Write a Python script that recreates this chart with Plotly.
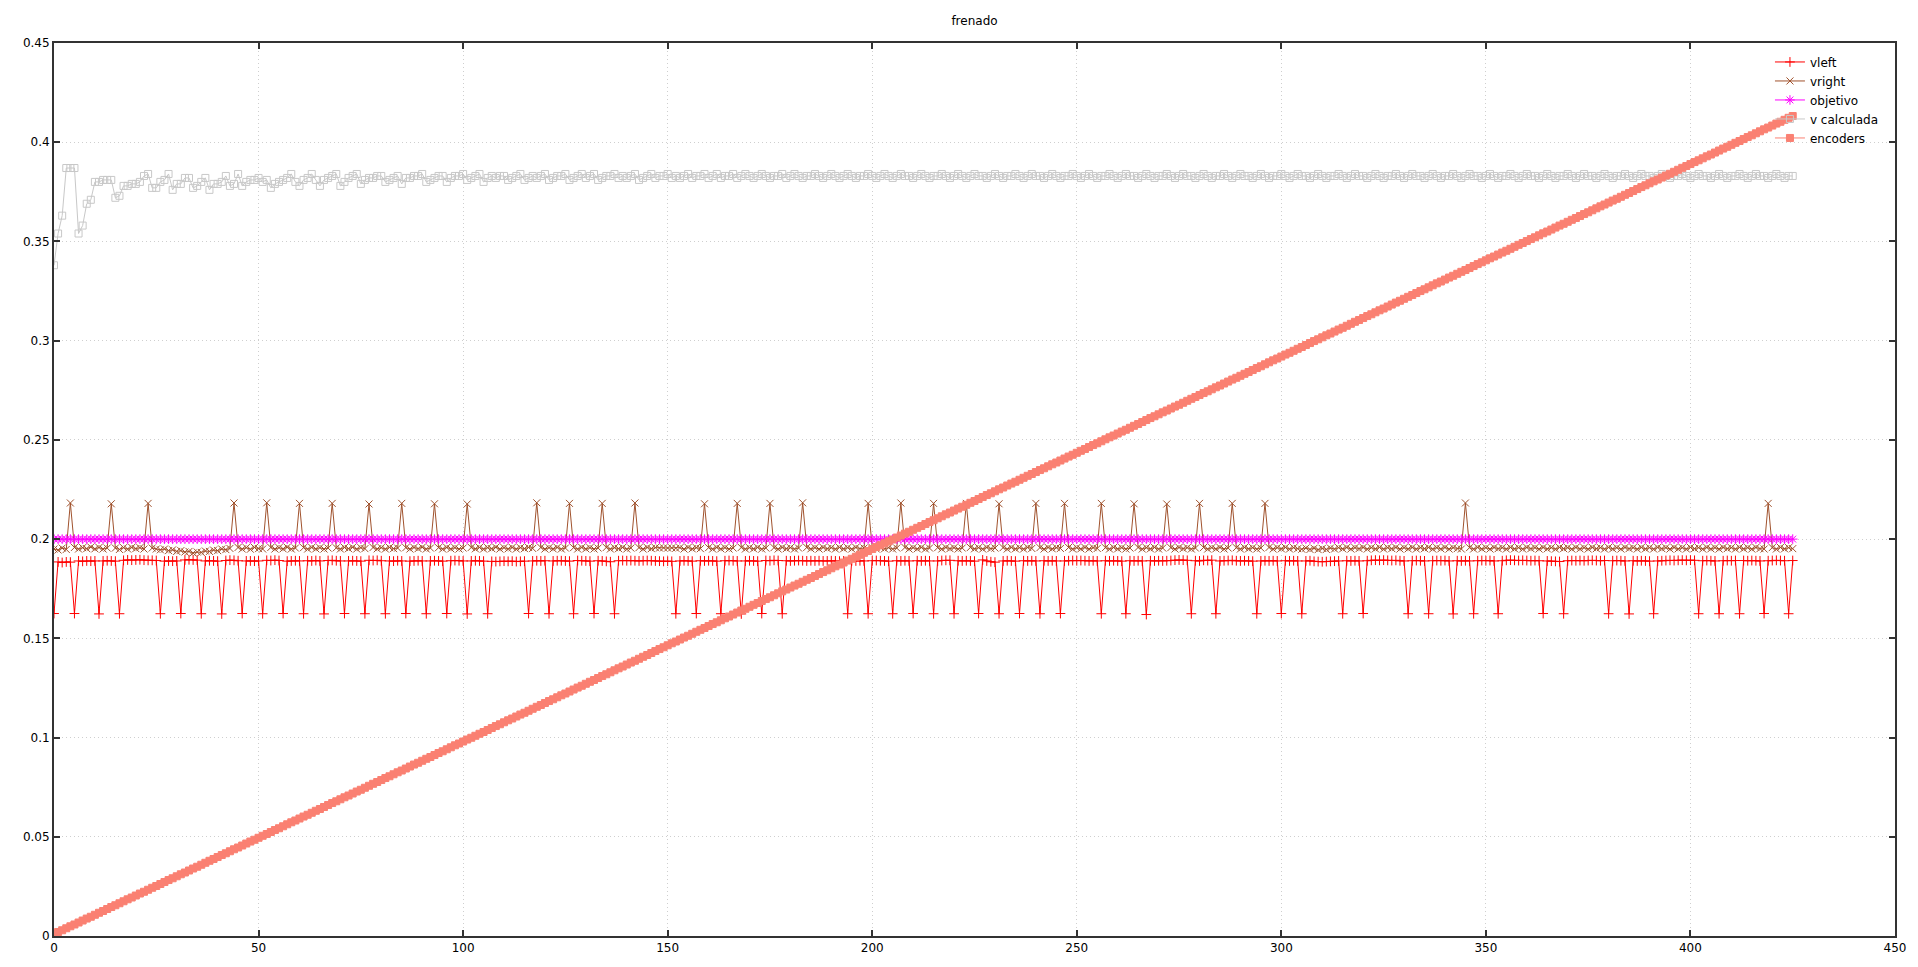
import plotly.graph_objects as go

# sample index (x axis)
X = list(range(426))

VLEFT = [
    0.1625, 0.1885, 0.1882, 0.1885, 0.1884, 0.1625, 0.1890, 0.1888, 0.1890, 0.1889,
    0.1890, 0.1623, 0.1890, 0.1891, 0.1890, 0.1889, 0.1624, 0.1893, 0.1895, 0.1894,
    0.1895, 0.1896, 0.1894, 0.1893, 0.1893, 0.1892, 0.1624, 0.1889, 0.1890, 0.1889,
    0.1890, 0.1625, 0.1895, 0.1896, 0.1895, 0.1894, 0.1624, 0.1890, 0.1891, 0.1890,
    0.1889, 0.1623, 0.1892, 0.1894, 0.1893, 0.1891, 0.1625, 0.1890, 0.1890, 0.1889,
    0.1890, 0.1624, 0.1893, 0.1892, 0.1894, 0.1892, 0.1625, 0.1889, 0.1890, 0.1891,
    0.1890, 0.1624, 0.1891, 0.1890, 0.1892, 0.1890, 0.1623, 0.1892, 0.1893, 0.1891,
    0.1890, 0.1625, 0.1890, 0.1891, 0.1890, 0.1889, 0.1624, 0.1893, 0.1892, 0.1893,
    0.1891, 0.1624, 0.1890, 0.1889, 0.1891, 0.1890, 0.1625, 0.1889, 0.1890, 0.1891,
    0.1890, 0.1624, 0.1890, 0.1891, 0.1890, 0.1889, 0.1625, 0.1891, 0.1892, 0.1891,
    0.1890, 0.1623, 0.1890, 0.1891, 0.1890, 0.1889, 0.1624, 0.1888, 0.1887, 0.1888,
    0.1889, 0.1888, 0.1889, 0.1887, 0.1888, 0.1889, 0.1625, 0.1890, 0.1891, 0.1890,
    0.1891, 0.1624, 0.1890, 0.1891, 0.1891, 0.1890, 0.1889, 0.1624, 0.1892, 0.1891,
    0.1890, 0.1889, 0.1625, 0.1891, 0.1890, 0.1888, 0.1886, 0.1624, 0.1891, 0.1892,
    0.1891, 0.1892, 0.1891, 0.1890, 0.1891, 0.1892, 0.1891, 0.1890, 0.1889, 0.1888,
    0.1889, 0.1888, 0.1624, 0.1890, 0.1891, 0.1890, 0.1889, 0.1625, 0.1891, 0.1890,
    0.1891, 0.1890, 0.1889, 0.1624, 0.1891, 0.1892, 0.1891, 0.1890, 0.1623, 0.1890,
    0.1891, 0.1890, 0.1889, 0.1625, 0.1892, 0.1891, 0.1893, 0.1892, 0.1624, 0.1891,
    0.1890, 0.1891, 0.1892, 0.1891, 0.1890, 0.1891, 0.1890, 0.1891, 0.1890, 0.1890,
    0.1891, 0.1890, 0.1889, 0.1890, 0.1624, 0.1891, 0.1890, 0.1891, 0.1890, 0.1624,
    0.1891, 0.1892, 0.1891, 0.1890, 0.1889, 0.1624, 0.1891, 0.1890, 0.1891, 0.1890,
    0.1625, 0.1891, 0.1890, 0.1891, 0.1890, 0.1624, 0.1890, 0.1892, 0.1893, 0.1893,
    0.1624, 0.1891, 0.1890, 0.1891, 0.1890, 0.1889, 0.1625, 0.1895, 0.1890, 0.1886,
    0.1884, 0.1624, 0.1890, 0.1891, 0.1890, 0.1889, 0.1625, 0.1891, 0.1890, 0.1891,
    0.1890, 0.1624, 0.1891, 0.1890, 0.1891, 0.1890, 0.1625, 0.1890, 0.1891, 0.1892,
    0.1891, 0.1892, 0.1891, 0.1890, 0.1891, 0.1890, 0.1624, 0.1891, 0.1890, 0.1891,
    0.1890, 0.1889, 0.1624, 0.1891, 0.1890, 0.1891, 0.1890, 0.1620, 0.1891, 0.1890,
    0.1891, 0.1890, 0.1891, 0.1892, 0.1894, 0.1895, 0.1894, 0.1893, 0.1624, 0.1891,
    0.1890, 0.1893, 0.1892, 0.1894, 0.1624, 0.1890, 0.1891, 0.1892, 0.1893, 0.1891,
    0.1890, 0.1891, 0.1890, 0.1889, 0.1624, 0.1890, 0.1891, 0.1890, 0.1891, 0.1890,
    0.1625, 0.1891, 0.1890, 0.1891, 0.1890, 0.1624, 0.1890, 0.1891, 0.1888, 0.1887,
    0.1886, 0.1887, 0.1888, 0.1889, 0.1890, 0.1624, 0.1891, 0.1890, 0.1891, 0.1890,
    0.1625, 0.1891, 0.1893, 0.1894, 0.1893, 0.1894, 0.1893, 0.1892, 0.1893, 0.1891,
    0.1890, 0.1624, 0.1891, 0.1892, 0.1891, 0.1890, 0.1624, 0.1891, 0.1892, 0.1891,
    0.1892, 0.1890, 0.1623, 0.1891, 0.1890, 0.1891, 0.1890, 0.1624, 0.1891, 0.1892,
    0.1891, 0.1892, 0.1890, 0.1624, 0.1891, 0.1893, 0.1894, 0.1893, 0.1892, 0.1893,
    0.1892, 0.1891, 0.1892, 0.1891, 0.1625, 0.1890, 0.1889, 0.1888, 0.1887, 0.1624,
    0.1891, 0.1892, 0.1891, 0.1892, 0.1891, 0.1892, 0.1893, 0.1892, 0.1891, 0.1892,
    0.1624, 0.1891, 0.1892, 0.1891, 0.1890, 0.1623, 0.1891, 0.1890, 0.1891, 0.1890,
    0.1889, 0.1624, 0.1890, 0.1891, 0.1892, 0.1893, 0.1892, 0.1893, 0.1894, 0.1893,
    0.1894, 0.1893, 0.1624, 0.1891, 0.1892, 0.1891, 0.1890, 0.1624, 0.1891, 0.1892,
    0.1891, 0.1892, 0.1624, 0.1892, 0.1891, 0.1892, 0.1891, 0.1890, 0.1625, 0.1891,
    0.1892, 0.1893, 0.1892, 0.1891, 0.1624, 0.1892,
]

VRIGHT = [
    0.1950, 0.1945, 0.1955, 0.1948, 0.2182, 0.1958, 0.1950, 0.1957, 0.1952, 0.1960,
    0.1951, 0.1958, 0.1950, 0.1955, 0.2178, 0.1955, 0.1948, 0.1957, 0.1950, 0.1958,
    0.1952, 0.1957, 0.1950, 0.2180, 0.1955, 0.1950, 0.1946, 0.1950, 0.1942, 0.1946,
    0.1938, 0.1942, 0.1935, 0.1938, 0.1930, 0.1935, 0.1933, 0.1940, 0.1938, 0.1945,
    0.1942, 0.1950, 0.1947, 0.1953, 0.2182, 0.1958, 0.1950, 0.1957, 0.1949, 0.1958,
    0.1952, 0.1950, 0.2183, 0.1958, 0.1950, 0.1957, 0.1951, 0.1959, 0.1950, 0.1955,
    0.2180, 0.1957, 0.1950, 0.1958, 0.1951, 0.1957, 0.1950, 0.1955, 0.2180, 0.1956,
    0.1950, 0.1958, 0.1952, 0.1959, 0.1950, 0.1957, 0.1952, 0.2177, 0.1958, 0.1951,
    0.1957, 0.1950, 0.1958, 0.1952, 0.1955, 0.2180, 0.1957, 0.1950, 0.1958, 0.1952,
    0.1959, 0.1950, 0.1955, 0.2178, 0.1957, 0.1950, 0.1958, 0.1951, 0.1957, 0.1950,
    0.1955, 0.2177, 0.1958, 0.1951, 0.1958, 0.1950, 0.1957, 0.1952, 0.1959, 0.1950,
    0.1957, 0.1951, 0.1958, 0.1950, 0.1957, 0.1952, 0.1958, 0.1953, 0.2183, 0.1958,
    0.1950, 0.1957, 0.1951, 0.1958, 0.1950, 0.1955, 0.2180, 0.1957, 0.1950, 0.1958,
    0.1951, 0.1957, 0.1950, 0.1955, 0.2180, 0.1958, 0.1950, 0.1957, 0.1952, 0.1958,
    0.1950, 0.1955, 0.2182, 0.1957, 0.1950, 0.1958, 0.1952, 0.1957, 0.1955, 0.1956,
    0.1955, 0.1956, 0.1954, 0.1957, 0.1950, 0.1958, 0.1951, 0.1957, 0.1952, 0.2178,
    0.1957, 0.1950, 0.1958, 0.1951, 0.1957, 0.1950, 0.1955, 0.2180, 0.1958, 0.1950,
    0.1957, 0.1951, 0.1958, 0.1950, 0.1955, 0.2180, 0.1957, 0.1950, 0.1958, 0.1952,
    0.1957, 0.1950, 0.1955, 0.2183, 0.1958, 0.1951, 0.1957, 0.1950, 0.1958, 0.1952,
    0.1957, 0.1950, 0.1958, 0.1951, 0.1957, 0.1950, 0.1958, 0.1952, 0.1955, 0.2180,
    0.1957, 0.1950, 0.1958, 0.1951, 0.1957, 0.1950, 0.1955, 0.2182, 0.1958, 0.1950,
    0.1957, 0.1951, 0.1958, 0.1950, 0.1955, 0.2180, 0.1957, 0.1950, 0.1958, 0.1952,
    0.1957, 0.1950, 0.1955, 0.2180, 0.1958, 0.1951, 0.1957, 0.1950, 0.1958, 0.1952,
    0.1955, 0.2178, 0.1957, 0.1950, 0.1958, 0.1951, 0.1957, 0.1950, 0.1958, 0.1953,
    0.2180, 0.1957, 0.1950, 0.1958, 0.1951, 0.1957, 0.1953, 0.2180, 0.1958, 0.1950,
    0.1957, 0.1951, 0.1958, 0.1950, 0.1957, 0.1953, 0.2180, 0.1957, 0.1950, 0.1958,
    0.1951, 0.1957, 0.1950, 0.1955, 0.2178, 0.1958, 0.1950, 0.1957, 0.1951, 0.1958,
    0.1950, 0.1955, 0.2177, 0.1957, 0.1950, 0.1958, 0.1952, 0.1957, 0.1950, 0.1955,
    0.2180, 0.1958, 0.1950, 0.1957, 0.1951, 0.1958, 0.1950, 0.1955, 0.2180, 0.1957,
    0.1950, 0.1958, 0.1951, 0.1957, 0.1950, 0.1955, 0.2180, 0.1958, 0.1950, 0.1957,
    0.1951, 0.1958, 0.1950, 0.1957, 0.1952, 0.1949, 0.1955, 0.1948, 0.1954, 0.1947,
    0.1953, 0.1948, 0.1955, 0.1950, 0.1957, 0.1951, 0.1958, 0.1950, 0.1957, 0.1952,
    0.1958, 0.1950, 0.1957, 0.1951, 0.1958, 0.1950, 0.1957, 0.1952, 0.1958, 0.1950,
    0.1957, 0.1951, 0.1958, 0.1950, 0.1957, 0.1952, 0.1958, 0.1950, 0.1957, 0.1951,
    0.1958, 0.1950, 0.1957, 0.1952, 0.1950, 0.2182, 0.1957, 0.1950, 0.1958, 0.1951,
    0.1957, 0.1950, 0.1958, 0.1952, 0.1957, 0.1950, 0.1958, 0.1951, 0.1957, 0.1950,
    0.1958, 0.1952, 0.1957, 0.1950, 0.1958, 0.1951, 0.1957, 0.1950, 0.1958, 0.1952,
    0.1957, 0.1950, 0.1958, 0.1951, 0.1957, 0.1950, 0.1958, 0.1952, 0.1957, 0.1950,
    0.1958, 0.1951, 0.1957, 0.1950, 0.1958, 0.1952, 0.1957, 0.1950, 0.1958, 0.1951,
    0.1957, 0.1950, 0.1958, 0.1952, 0.1957, 0.1950, 0.1958, 0.1951, 0.1957, 0.1950,
    0.1958, 0.1952, 0.1957, 0.1950, 0.1958, 0.1951, 0.1957, 0.1950, 0.1958, 0.1952,
    0.1957, 0.1950, 0.1958, 0.1951, 0.1957, 0.1950, 0.1958, 0.1952, 0.1950, 0.2180,
    0.1957, 0.1950, 0.1958, 0.1951, 0.1957, 0.1952,
]

OBJETIVO = [
    0.2, 0.2, 0.2, 0.2, 0.2, 0.2, 0.2, 0.2, 0.2, 0.2, 0.2, 0.2, 0.2, 0.2, 0.2, 0.2, 0.2, 0.2, 0.2, 0.2,
    0.2, 0.2, 0.2, 0.2, 0.2, 0.2, 0.2, 0.2, 0.2, 0.2, 0.2, 0.2, 0.2, 0.2, 0.2, 0.2, 0.2, 0.2, 0.2, 0.2,
    0.2, 0.2, 0.2, 0.2, 0.2, 0.2, 0.2, 0.2, 0.2, 0.2, 0.2, 0.2, 0.2, 0.2, 0.2, 0.2, 0.2, 0.2, 0.2, 0.2,
    0.2, 0.2, 0.2, 0.2, 0.2, 0.2, 0.2, 0.2, 0.2, 0.2, 0.2, 0.2, 0.2, 0.2, 0.2, 0.2, 0.2, 0.2, 0.2, 0.2,
    0.2, 0.2, 0.2, 0.2, 0.2, 0.2, 0.2, 0.2, 0.2, 0.2, 0.2, 0.2, 0.2, 0.2, 0.2, 0.2, 0.2, 0.2, 0.2, 0.2,
    0.2, 0.2, 0.2, 0.2, 0.2, 0.2, 0.2, 0.2, 0.2, 0.2, 0.2, 0.2, 0.2, 0.2, 0.2, 0.2, 0.2, 0.2, 0.2, 0.2,
    0.2, 0.2, 0.2, 0.2, 0.2, 0.2, 0.2, 0.2, 0.2, 0.2, 0.2, 0.2, 0.2, 0.2, 0.2, 0.2, 0.2, 0.2, 0.2, 0.2,
    0.2, 0.2, 0.2, 0.2, 0.2, 0.2, 0.2, 0.2, 0.2, 0.2, 0.2, 0.2, 0.2, 0.2, 0.2, 0.2, 0.2, 0.2, 0.2, 0.2,
    0.2, 0.2, 0.2, 0.2, 0.2, 0.2, 0.2, 0.2, 0.2, 0.2, 0.2, 0.2, 0.2, 0.2, 0.2, 0.2, 0.2, 0.2, 0.2, 0.2,
    0.2, 0.2, 0.2, 0.2, 0.2, 0.2, 0.2, 0.2, 0.2, 0.2, 0.2, 0.2, 0.2, 0.2, 0.2, 0.2, 0.2, 0.2, 0.2, 0.2,
    0.2, 0.2, 0.2, 0.2, 0.2, 0.2, 0.2, 0.2, 0.2, 0.2, 0.2, 0.2, 0.2, 0.2, 0.2, 0.2, 0.2, 0.2, 0.2, 0.2,
    0.2, 0.2, 0.2, 0.2, 0.2, 0.2, 0.2, 0.2, 0.2, 0.2, 0.2, 0.2, 0.2, 0.2, 0.2, 0.2, 0.2, 0.2, 0.2, 0.2,
    0.2, 0.2, 0.2, 0.2, 0.2, 0.2, 0.2, 0.2, 0.2, 0.2, 0.2, 0.2, 0.2, 0.2, 0.2, 0.2, 0.2, 0.2, 0.2, 0.2,
    0.2, 0.2, 0.2, 0.2, 0.2, 0.2, 0.2, 0.2, 0.2, 0.2, 0.2, 0.2, 0.2, 0.2, 0.2, 0.2, 0.2, 0.2, 0.2, 0.2,
    0.2, 0.2, 0.2, 0.2, 0.2, 0.2, 0.2, 0.2, 0.2, 0.2, 0.2, 0.2, 0.2, 0.2, 0.2, 0.2, 0.2, 0.2, 0.2, 0.2,
    0.2, 0.2, 0.2, 0.2, 0.2, 0.2, 0.2, 0.2, 0.2, 0.2, 0.2, 0.2, 0.2, 0.2, 0.2, 0.2, 0.2, 0.2, 0.2, 0.2,
    0.2, 0.2, 0.2, 0.2, 0.2, 0.2, 0.2, 0.2, 0.2, 0.2, 0.2, 0.2, 0.2, 0.2, 0.2, 0.2, 0.2, 0.2, 0.2, 0.2,
    0.2, 0.2, 0.2, 0.2, 0.2, 0.2, 0.2, 0.2, 0.2, 0.2, 0.2, 0.2, 0.2, 0.2, 0.2, 0.2, 0.2, 0.2, 0.2, 0.2,
    0.2, 0.2, 0.2, 0.2, 0.2, 0.2, 0.2, 0.2, 0.2, 0.2, 0.2, 0.2, 0.2, 0.2, 0.2, 0.2, 0.2, 0.2, 0.2, 0.2,
    0.2, 0.2, 0.2, 0.2, 0.2, 0.2, 0.2, 0.2, 0.2, 0.2, 0.2, 0.2, 0.2, 0.2, 0.2, 0.2, 0.2, 0.2, 0.2, 0.2,
    0.2, 0.2, 0.2, 0.2, 0.2, 0.2, 0.2, 0.2, 0.2, 0.2, 0.2, 0.2, 0.2, 0.2, 0.2, 0.2, 0.2, 0.2, 0.2, 0.2,
    0.2, 0.2, 0.2, 0.2, 0.2, 0.2,
]

VCALC = [
    0.338, 0.354, 0.363, 0.387, 0.387, 0.387, 0.354, 0.358, 0.369, 0.371,
    0.380, 0.380, 0.381, 0.381, 0.381, 0.372, 0.373, 0.378, 0.378, 0.379,
    0.379, 0.380, 0.383, 0.384, 0.377, 0.377, 0.380, 0.381, 0.384, 0.376,
    0.379, 0.379, 0.382, 0.382, 0.377, 0.378, 0.380, 0.382, 0.376, 0.379,
    0.379, 0.380, 0.383, 0.378, 0.379, 0.384, 0.378, 0.380, 0.381, 0.381,
    0.382, 0.380, 0.381, 0.377, 0.379, 0.380, 0.381, 0.382, 0.384, 0.380,
    0.378, 0.381, 0.382, 0.384, 0.381, 0.378, 0.381, 0.382, 0.383, 0.384,
    0.378, 0.380, 0.382, 0.383, 0.384, 0.379, 0.381, 0.382, 0.382, 0.383,
    0.383, 0.380, 0.381, 0.382, 0.383, 0.379, 0.382, 0.382, 0.383, 0.383,
    0.384, 0.380, 0.381, 0.382, 0.383, 0.383, 0.380, 0.382, 0.383, 0.383,
    0.384, 0.381, 0.382, 0.383, 0.384, 0.380, 0.382, 0.383, 0.382, 0.383,
    0.383, 0.381, 0.382, 0.383, 0.384, 0.381, 0.382, 0.383, 0.382, 0.383,
    0.384, 0.381, 0.382, 0.383, 0.383, 0.384, 0.381, 0.382, 0.383, 0.384,
    0.382, 0.383, 0.384, 0.381, 0.382, 0.383, 0.383, 0.384, 0.382, 0.383,
    0.382, 0.383, 0.384, 0.381, 0.382, 0.383, 0.384, 0.382, 0.383, 0.383,
    0.384, 0.382, 0.383, 0.382, 0.383, 0.384, 0.382, 0.383, 0.383, 0.384,
    0.382, 0.383, 0.384, 0.382, 0.383, 0.383, 0.384, 0.382, 0.383, 0.384,
    0.383, 0.382, 0.383, 0.384, 0.383, 0.382, 0.383, 0.383, 0.384, 0.382,
    0.383, 0.384, 0.383, 0.382, 0.383, 0.383, 0.384, 0.383, 0.382, 0.383,
    0.384, 0.383, 0.382, 0.383, 0.384, 0.383, 0.382, 0.383, 0.383, 0.384,
    0.383, 0.382, 0.383, 0.384, 0.383, 0.382, 0.383, 0.384, 0.383, 0.383,
    0.382, 0.383, 0.384, 0.383, 0.382, 0.383, 0.383, 0.384, 0.383, 0.382,
    0.383, 0.384, 0.383, 0.382, 0.383, 0.384, 0.383, 0.383, 0.382, 0.383,
    0.384, 0.383, 0.382, 0.383, 0.383, 0.384, 0.383, 0.382, 0.383, 0.384,
    0.383, 0.383, 0.382, 0.383, 0.384, 0.383, 0.382, 0.383, 0.383, 0.384,
    0.383, 0.382, 0.383, 0.384, 0.383, 0.382, 0.383, 0.383, 0.384, 0.383,
    0.382, 0.383, 0.384, 0.383, 0.383, 0.382, 0.383, 0.384, 0.383, 0.382,
    0.383, 0.383, 0.384, 0.383, 0.382, 0.383, 0.384, 0.383, 0.383, 0.382,
    0.383, 0.384, 0.383, 0.382, 0.383, 0.383, 0.384, 0.383, 0.382, 0.383,
    0.384, 0.383, 0.383, 0.382, 0.383, 0.384, 0.383, 0.382, 0.383, 0.383,
    0.384, 0.383, 0.382, 0.383, 0.384, 0.383, 0.383, 0.382, 0.383, 0.384,
    0.383, 0.382, 0.383, 0.383, 0.384, 0.383, 0.382, 0.383, 0.384, 0.383,
    0.383, 0.382, 0.383, 0.384, 0.383, 0.382, 0.383, 0.383, 0.384, 0.383,
    0.382, 0.383, 0.384, 0.383, 0.383, 0.382, 0.383, 0.384, 0.383, 0.382,
    0.383, 0.383, 0.384, 0.383, 0.382, 0.383, 0.384, 0.383, 0.383, 0.382,
    0.383, 0.384, 0.383, 0.382, 0.383, 0.383, 0.384, 0.383, 0.382, 0.383,
    0.384, 0.383, 0.383, 0.382, 0.383, 0.384, 0.383, 0.382, 0.383, 0.383,
    0.384, 0.383, 0.382, 0.383, 0.384, 0.383, 0.383, 0.382, 0.383, 0.384,
    0.383, 0.382, 0.383, 0.383, 0.384, 0.383, 0.382, 0.383, 0.384, 0.383,
    0.383, 0.382, 0.383, 0.384, 0.383, 0.382, 0.383, 0.383, 0.384, 0.383,
    0.382, 0.383, 0.384, 0.383, 0.383, 0.382, 0.383, 0.384, 0.383, 0.382,
    0.383, 0.383, 0.384, 0.383, 0.382, 0.383, 0.384, 0.383, 0.383, 0.382,
    0.383, 0.384, 0.383, 0.382, 0.383, 0.383,
]

ENCODERS = [
    0.0010, 0.0020, 0.0029, 0.0039, 0.0049, 0.0058, 0.0068, 0.0078, 0.0088, 0.0097,
    0.0107, 0.0117, 0.0126, 0.0136, 0.0146, 0.0155, 0.0165, 0.0175, 0.0185, 0.0194,
    0.0204, 0.0214, 0.0223, 0.0233, 0.0243, 0.0252, 0.0262, 0.0272, 0.0282, 0.0291,
    0.0301, 0.0311, 0.0320, 0.0330, 0.0340, 0.0349, 0.0359, 0.0369, 0.0379, 0.0388,
    0.0398, 0.0408, 0.0417, 0.0427, 0.0437, 0.0446, 0.0456, 0.0466, 0.0476, 0.0485,
    0.0495, 0.0505, 0.0514, 0.0524, 0.0534, 0.0543, 0.0553, 0.0563, 0.0573, 0.0582,
    0.0592, 0.0602, 0.0611, 0.0621, 0.0631, 0.0640, 0.0650, 0.0660, 0.0670, 0.0679,
    0.0689, 0.0699, 0.0708, 0.0718, 0.0728, 0.0737, 0.0747, 0.0757, 0.0767, 0.0776,
    0.0786, 0.0796, 0.0805, 0.0815, 0.0825, 0.0834, 0.0844, 0.0854, 0.0864, 0.0873,
    0.0883, 0.0893, 0.0902, 0.0912, 0.0922, 0.0931, 0.0941, 0.0951, 0.0961, 0.0970,
    0.0980, 0.0990, 0.0999, 0.1009, 0.1019, 0.1028, 0.1038, 0.1048, 0.1058, 0.1067,
    0.1077, 0.1087, 0.1096, 0.1106, 0.1116, 0.1125, 0.1135, 0.1145, 0.1155, 0.1164,
    0.1174, 0.1184, 0.1193, 0.1203, 0.1213, 0.1222, 0.1232, 0.1242, 0.1252, 0.1261,
    0.1271, 0.1281, 0.1290, 0.1300, 0.1310, 0.1319, 0.1329, 0.1339, 0.1349, 0.1358,
    0.1368, 0.1378, 0.1387, 0.1397, 0.1407, 0.1416, 0.1426, 0.1436, 0.1446, 0.1455,
    0.1465, 0.1475, 0.1484, 0.1494, 0.1504, 0.1513, 0.1523, 0.1533, 0.1543, 0.1552,
    0.1562, 0.1572, 0.1581, 0.1591, 0.1601, 0.1610, 0.1620, 0.1630, 0.1640, 0.1649,
    0.1659, 0.1669, 0.1678, 0.1688, 0.1698, 0.1707, 0.1717, 0.1727, 0.1737, 0.1746,
    0.1756, 0.1766, 0.1775, 0.1785, 0.1795, 0.1804, 0.1814, 0.1824, 0.1834, 0.1843,
    0.1853, 0.1863, 0.1872, 0.1882, 0.1892, 0.1901, 0.1911, 0.1921, 0.1931, 0.1940,
    0.1950, 0.1960, 0.1969, 0.1979, 0.1989, 0.1998, 0.2008, 0.2018, 0.2028, 0.2037,
    0.2047, 0.2057, 0.2066, 0.2076, 0.2086, 0.2095, 0.2105, 0.2115, 0.2125, 0.2134,
    0.2144, 0.2154, 0.2163, 0.2173, 0.2183, 0.2192, 0.2202, 0.2212, 0.2222, 0.2231,
    0.2241, 0.2251, 0.2260, 0.2270, 0.2280, 0.2289, 0.2299, 0.2309, 0.2319, 0.2328,
    0.2338, 0.2348, 0.2357, 0.2367, 0.2377, 0.2386, 0.2396, 0.2406, 0.2416, 0.2425,
    0.2435, 0.2445, 0.2454, 0.2464, 0.2474, 0.2483, 0.2493, 0.2503, 0.2513, 0.2522,
    0.2532, 0.2542, 0.2551, 0.2561, 0.2571, 0.2580, 0.2590, 0.2600, 0.2610, 0.2619,
    0.2629, 0.2639, 0.2648, 0.2658, 0.2668, 0.2677, 0.2687, 0.2697, 0.2707, 0.2716,
    0.2726, 0.2736, 0.2745, 0.2755, 0.2765, 0.2774, 0.2784, 0.2794, 0.2804, 0.2813,
    0.2823, 0.2833, 0.2842, 0.2852, 0.2862, 0.2871, 0.2881, 0.2891, 0.2901, 0.2910,
    0.2920, 0.2930, 0.2939, 0.2949, 0.2959, 0.2968, 0.2978, 0.2988, 0.2998, 0.3007,
    0.3017, 0.3027, 0.3036, 0.3046, 0.3056, 0.3065, 0.3075, 0.3085, 0.3095, 0.3104,
    0.3114, 0.3124, 0.3133, 0.3143, 0.3153, 0.3162, 0.3172, 0.3182, 0.3192, 0.3201,
    0.3211, 0.3221, 0.3230, 0.3240, 0.3250, 0.3259, 0.3269, 0.3279, 0.3289, 0.3298,
    0.3308, 0.3318, 0.3327, 0.3337, 0.3347, 0.3356, 0.3366, 0.3376, 0.3386, 0.3395,
    0.3405, 0.3415, 0.3424, 0.3434, 0.3444, 0.3453, 0.3463, 0.3473, 0.3483, 0.3492,
    0.3502, 0.3512, 0.3521, 0.3531, 0.3541, 0.3550, 0.3560, 0.3570, 0.3580, 0.3589,
    0.3599, 0.3609, 0.3618, 0.3628, 0.3638, 0.3647, 0.3657, 0.3667, 0.3677, 0.3686,
    0.3696, 0.3706, 0.3715, 0.3725, 0.3735, 0.3744, 0.3754, 0.3764, 0.3774, 0.3783,
    0.3793, 0.3803, 0.3812, 0.3822, 0.3832, 0.3841, 0.3851, 0.3861, 0.3871, 0.3880,
    0.3890, 0.3900, 0.3909, 0.3919, 0.3929, 0.3938, 0.3948, 0.3958, 0.3968, 0.3977,
    0.3987, 0.3997, 0.4006, 0.4016, 0.4026, 0.4035, 0.4045, 0.4055, 0.4065, 0.4074,
    0.4084, 0.4094, 0.4103, 0.4113, 0.4123, 0.4132,
]

SERIES = [
    ("vleft", VLEFT, "#ff0000", "cross-thin-open", 7),
    ("vright", VRIGHT, "#a0522d", "x-thin-open", 7),
    ("objetivo", OBJETIVO, "#ff00ff", "asterisk-open", 8),
    ("v calculada", VCALC, "#c8c8c8", "square-open", 7),
    ("encoders", ENCODERS, "#fa8072", "square", 7),
]

FONT = "DejaVu Sans"

fig = go.Figure()
for name, vals, color, symbol, size in SERIES:
    fig.add_trace(go.Scatter(
        x=X, y=vals, name=name, mode="lines+markers",
        line=dict(color=color, width=1),
        marker=dict(symbol=symbol, size=size, color=color,
                    line=dict(color=color, width=1)),
    ))

axis_common = dict(
    showline=True, linecolor="#333333", linewidth=2, mirror="ticks",
    ticks="inside", ticklen=6, tickwidth=1.5, tickcolor="#333333",
    showgrid=True, gridcolor="#cfcfcf", gridwidth=1, griddash="1px,3px",
    zeroline=False, tickfont=dict(family=FONT, size=12, color="#000000"),
)

fig.update_layout(
    width=1918, height=967,
    margin=dict(l=54, r=22, t=43, b=28),
    paper_bgcolor="white", plot_bgcolor="white",
    title=dict(text="frenado", x=0.5, xref="paper", xanchor="center",
               y=1 - 21 / 967, yref="container", yanchor="middle",
               font=dict(family=FONT, size=12, color="#000000")),
    font=dict(family=FONT, size=12, color="#000000"),
    xaxis=dict(range=[0, 450], dtick=50, tick0=0, **axis_common),
    yaxis=dict(range=[0, 0.45], dtick=0.05, tick0=0, **axis_common),
    legend=dict(x=0.994, y=0.995, xanchor="right", yanchor="top",
                bgcolor="rgba(0,0,0,0)", borderwidth=0,
                font=dict(family=FONT, size=12, color="#000000"),
                tracegroupgap=0),
    showlegend=True,
)

fig.write_html("out.html")
